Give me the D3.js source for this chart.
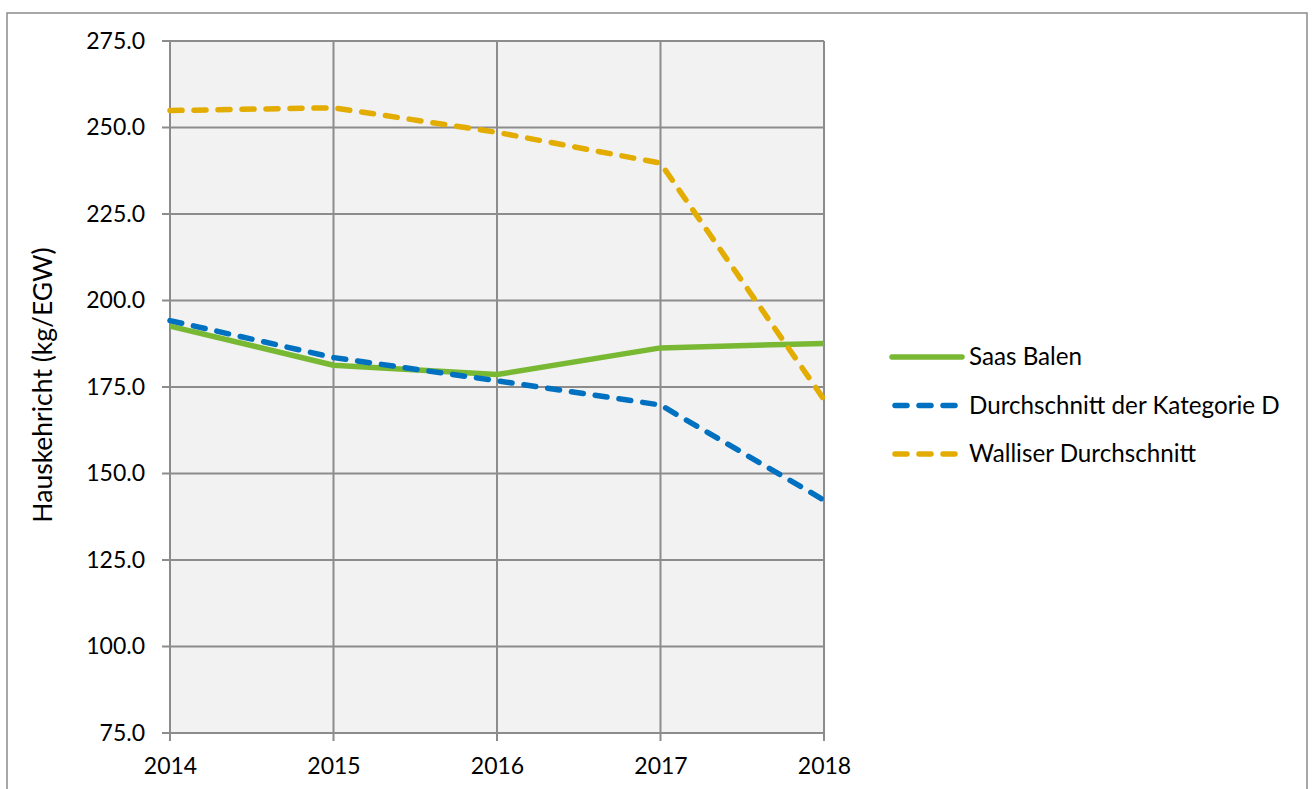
<!DOCTYPE html>
<html><head><meta charset="utf-8">
<script src="https://cdn.jsdelivr.net/npm/d3@7"></script>
<style>
html,body{margin:0;padding:0;background:#fff;}
svg{display:block;font-family:Lato, "Open Sans", sans-serif;}
</style></head>
<body>
<svg id="chart" width="1314" height="789"></svg>
<script>
const years = [2014, 2015, 2016, 2017, 2018];
const saasBalen = [192.6, 181.3, 178.6, 186.3, 187.6];
const kategorieD = [194.2, 183.5, 176.8, 169.8, 142.3];
const walliser = [254.9, 255.7, 248.6, 239.7, 171.4];
const yTicks = [75, 100, 125, 150, 175, 200, 225, 250, 275];
const seriesNames = ["Saas Balen", "Durchschnitt der Kategorie D", "Walliser Durchschnitt"];
const yLabel = "Hauskehricht (kg/EGW)";

const series = [
  {name: seriesNames[0], values: saasBalen, color: "#78b833", dash: null},
  {name: seriesNames[1], values: kategorieD, color: "#0070c0", dash: "12,12"},
  {name: seriesNames[2], values: walliser, color: "#e3ac00", dash: "12,12"}
];

const svg = d3.select("#chart");
const pL = 170, pR = 824, pT = 41, pB = 733;

// outer frame
svg.append("rect").attr("x", 7).attr("y", 13).attr("width", 1300).attr("height", 800)
  .attr("fill", "#fff").attr("stroke", "#8a8a8a").attr("stroke-width", 1.5);

const x = d3.scalePoint().domain(years).range([pL, pR]);
const y = d3.scaleLinear().domain([75, 275]).range([pB, pT]);

// plot background
svg.append("rect").attr("x", pL).attr("y", pT).attr("width", pR - pL).attr("height", pB - pT)
  .attr("fill", "#f2f2f2");

// grid
const grid = svg.append("g");
grid.selectAll("line.h").data(yTicks).join("line").attr("class", "h")
  .attr("x1", pL - 8).attr("x2", pR).attr("y1", d => y(d)).attr("y2", d => y(d))
  .attr("stroke", "#8c8c8c").attr("stroke-width", 2);
grid.selectAll("line.v").data(years).join("line").attr("class", "v")
  .attr("x1", d => x(d)).attr("x2", d => x(d)).attr("y1", pT).attr("y2", pB + 8)
  .attr("stroke", "#8c8c8c").attr("stroke-width", 2);

// y axis labels
const yAxis = d3.axisLeft(y).tickValues(yTicks).tickFormat(d3.format(".1f")).tickSize(0).tickPadding(25);
const ya = svg.append("g").attr("transform", `translate(${pL},0)`).call(yAxis);
ya.select(".domain").remove();
ya.selectAll("text").attr("font-size", 23).attr("fill", "#000").attr("font-family", "Lato");

const xAxis = d3.axisBottom(x).tickSize(0).tickPadding(25);
const xa = svg.append("g").attr("transform", `translate(0,${pB})`).call(xAxis);
xa.select(".domain").remove();
xa.selectAll("text").attr("font-size", 23).attr("fill", "#000").attr("font-family", "Lato");

// y label
svg.append("text").attr("transform", `translate(52,${(pT + pB) / 2 - 2}) rotate(-90)`)
  .attr("text-anchor", "middle").attr("font-size", 26.5).attr("fill", "#000").text(yLabel);

// lines
const line = d3.line().x((d, i) => x(years[i])).y(d => y(d));
series.forEach(s => {
  svg.append("path").datum(s.values).attr("d", line)
    .attr("fill", "none").attr("stroke", s.color).attr("stroke-width", 5.5)
    .attr("stroke-linejoin", "round")
    .attr("stroke-linecap", s.dash ? "round" : "butt")
    .attr("stroke-dasharray", s.dash);
});

// legend
const legend = svg.append("g");
series.forEach((s, i) => {
  const ly = 357 + i * 48.5;
  legend.append("line").attr("x1", s.dash ? 895 : 892).attr("x2", 962).attr("y1", ly).attr("y2", ly)
    .attr("stroke", s.color).attr("stroke-width", 5.5)
    .attr("stroke-linecap", "round")
    .attr("stroke-dasharray", s.dash);
  legend.append("text").attr("x", 969).attr("y", ly).attr("dy", "0.35em")
    .attr("font-size", 24.2).attr("fill", "#000").text(s.name);
});
</script>
</body></html>
